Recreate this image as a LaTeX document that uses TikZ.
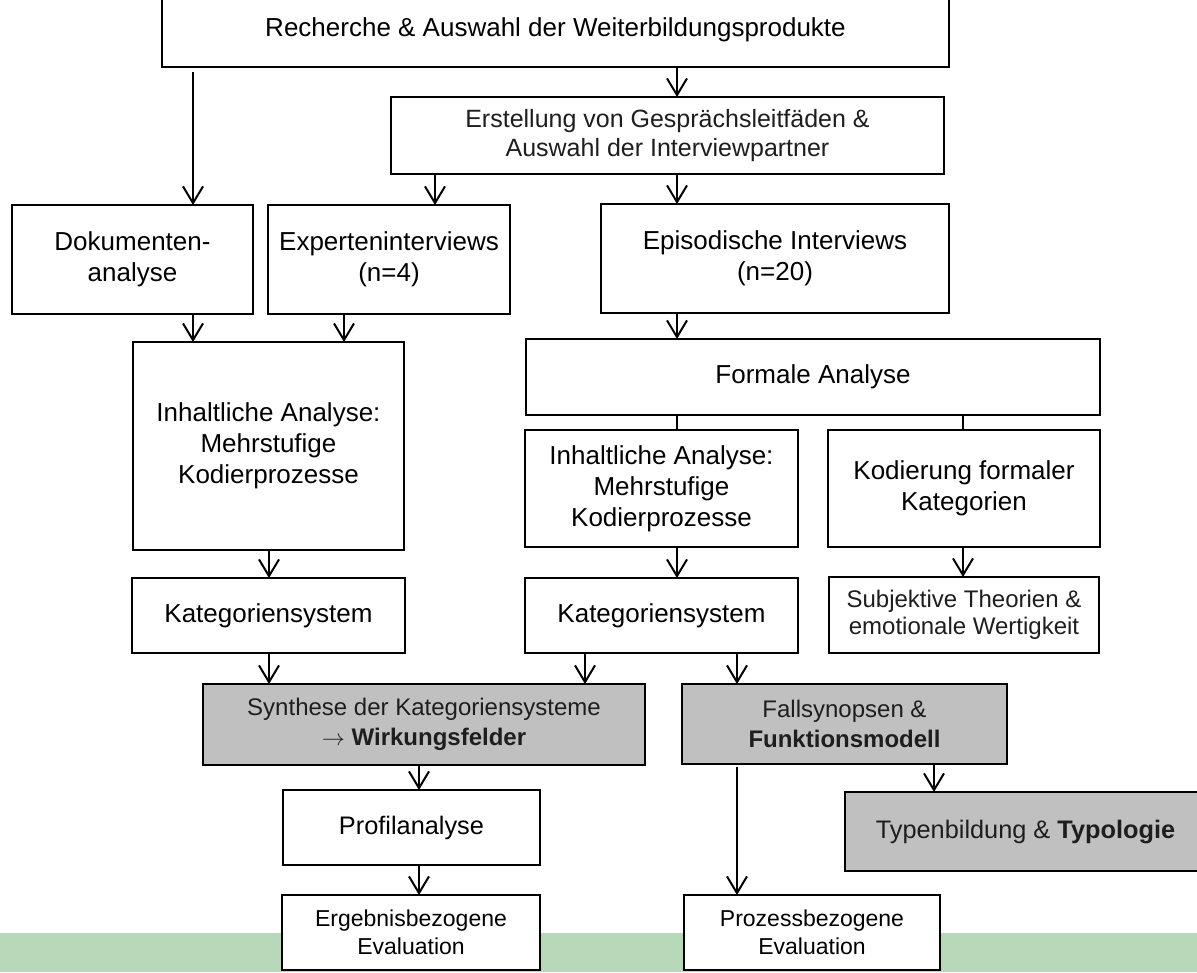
\documentclass[tikz,border=0pt]{standalone}
\usepackage{fontspec}
\setmainfont{Liberation Sans}
\usetikzlibrary{arrows.meta}
\definecolor{boxgrey}{HTML}{C0C0C0}
\definecolor{bandgreen}{HTML}{B8D8BA}
\definecolor{softtext}{HTML}{1E1E1E}
\newcommand{\fA}{\fontsize{19.5pt}{23.25pt}\selectfont}
\newcommand{\fB}{\fontsize{18.75pt}{21.75pt}\selectfont}
\newcommand{\fC}{\fontsize{18pt}{20.25pt}\selectfont}
\newcommand{\fD}{\fontsize{18pt}{22pt}\selectfont}
\newcommand{\fE}{\fontsize{17.25pt}{21pt}\selectfont}
\newcommand{\fF}{\fontsize{19pt}{23pt}\selectfont}
\newcommand{\mybox}[7]{\node[#2, minimum width={(#5-#3)*0.75pt}, minimum height={(#6-#4)*0.75pt}] (#1) at ({(#3+#5)/2},{(#4+#6)/2}) {#7};}
\tikzset{
  box/.style={draw=black, line width=1.9pt, fill=white, inner sep=0pt, outer sep=0pt, align=center, font=\fA},
  greybox/.style={box, fill=boxgrey, line width=2.2pt},
  arr/.style={line width=1.5pt, -{Straight Barb[length=12.5pt, width=15pt]}},
  plainline/.style={line width=1.5pt}
}
\begin{document}
\begin{tikzpicture}[x=0.75pt, y=-0.75pt]
\useasboundingbox (0,0) rectangle (1197,972);
\fill[white] (0,0) rectangle (1197,972);
\fill[bandgreen] (0,933) rectangle (1197,972);

\mybox{top}{box}{162}{-8}{949}{67}{Recherche \& Auswahl der Weiterbildungsprodukte}
\mybox{erst}{box, font=\fB, text=softtext}{391}{97}{944}{174}{Erstellung von Gesprächsleitfäden \&\\Auswahl der Interviewpartner}
\mybox{dok}{box}{12}{205}{253}{314}{Dokumenten-\\analyse}
\mybox{exp}{box}{268}{205}{510}{314}{Experteninterviews\\(n=4)}
\mybox{epi}{box}{601}{204}{949}{313}{Episodische Interviews\\(n=20)}
\mybox{inh1}{box}{133}{342}{404}{550}{Inhaltliche Analyse:\\Mehrstufige\\Kodierprozesse}
\mybox{form}{box}{526}{339}{1100}{415}{Formale Analyse}
\mybox{inh2}{box}{525}{430}{798}{547}{Inhaltliche Analyse:\\Mehrstufige\\Kodierprozesse}
\mybox{kod}{box}{828}{430}{1100}{547}{Kodierung formaler\\Kategorien}
\mybox{kat1}{box}{132}{578}{405}{653}{Kategoriensystem}
\mybox{kat2}{box}{525}{578}{798}{653}{Kategoriensystem}
\mybox{subj}{box, font=\fC, text=softtext}{829}{577}{1099}{653}{Subjektive Theorien \&\\emotionale Wertigkeit}
\mybox{syn}{greybox, font=\fD, text=softtext}{203}{684}{645}{765}{Synthese der Kategoriensysteme\\$\rightarrow$ \textbf{Wirkungsfelder}}
\mybox{fall}{greybox, font=\fD, text=softtext}{682}{684}{1007}{764}{Fallsynopsen \&\\\textbf{Funktionsmodell}}
\mybox{prof}{box, font=\fF}{283}{790}{540}{865}{Profilanalyse}
\mybox{typ}{greybox, font=\fF, text=softtext}{845}{792}{1206}{871}{Typenbildung \& \textbf{Typologie}}
\mybox{erg}{box, font=\fE}{282}{895}{540}{970}{Ergebnisbezogene\\Evaluation}
\mybox{proz}{box, font=\fE}{684}{895}{940}{970}{Prozessbezogene\\Evaluation}

\foreach \c in {193,269,344,419,435,585,677,737,934,963} {\coordinate (c\c) at (\c,0);}

\draw[arr, shorten <=3.75pt] (top.south -| c193) -- (dok.north -| c193);
\draw[arr] (top.south -| c677) -- (erst.north -| c677);
\draw[arr] (erst.south -| c435) -- (exp.north -| c435);
\draw[arr] (erst.south -| c677) -- (epi.north -| c677);
\draw[arr] (dok.south -| c193) -- (inh1.north -| c193);
\draw[arr] (exp.south -| c344) -- (inh1.north -| c344);
\draw[arr] (epi.south -| c677) -- (form.north -| c677);
\draw[plainline] (form.south -| c677) -- (inh2.north -| c677);
\draw[plainline] (form.south -| c963) -- (kod.north -| c963);
\draw[arr] (inh1.south -| c269) -- (kat1.north -| c269);
\draw[arr] (inh2.south -| c677) -- (kat2.north -| c677);
\draw[arr] (kod.south -| c963) -- (subj.north -| c963);
\draw[arr] (kat1.south -| c269) -- (syn.north -| c269);
\draw[arr] (kat2.south -| c585) -- (syn.north -| c585);
\draw[arr] (kat2.south -| c737) -- (fall.north -| c737);
\draw[arr] (syn.south -| c419) -- (prof.north -| c419);
\draw[arr] (prof.south -| c419) -- (erg.north -| c419);
\draw[arr, shorten <=2pt] (fall.south -| c737) -- (proz.north -| c737);
\draw[arr] (fall.south -| c934) -- (typ.north -| c934);
\end{tikzpicture}
\end{document}
